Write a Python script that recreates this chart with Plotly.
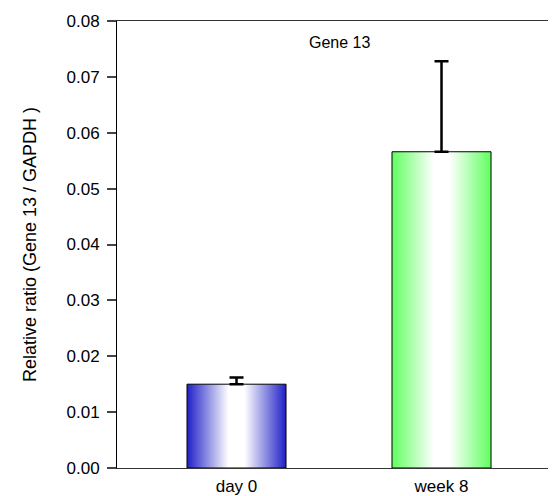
import plotly.graph_objects as go

categories = ["day 0", "week 8"]
values = [0.0150, 0.0566]
errors = [0.0012, 0.0162]
edge_colors = ["rgb(32,32,200)", "rgb(96,255,96)"]
title_text = "Gene 13"
y_label = "Relative ratio (Gene 13 / GAPDH )"

bar_width = 0.483
positions = list(range(len(categories)))

fig = go.Figure()

for i, (pos, v, c) in enumerate(zip(positions, values, edge_colors)):
    x0, x1 = pos - bar_width / 2, pos + bar_width / 2
    fig.add_trace(go.Scatter(
        x=[x0, x1, x1, x0, x0], y=[0, 0, v, v, 0],
        mode="lines", fill="toself",
        fillgradient=dict(type="horizontal",
                          colorscale=[[0, c], [0.42, "white"], [0.58, "white"], [1, c]],
                          start=x0, stop=x1),
        line=dict(color="black", width=1),
        hoverinfo="skip", showlegend=False,
    ))

fig.add_trace(go.Scatter(
    x=positions, y=values, mode="markers",
    marker=dict(size=1, color="rgba(0,0,0,0)"),
    error_y=dict(type="data", symmetric=False, array=errors,
                 arrayminus=[0] * len(errors), color="black",
                 thickness=2.5, width=7),
    showlegend=False, hoverinfo="skip",
))

fig.add_annotation(x=0.5, y=0.0762, xref="x", yref="y", text=title_text,
                   showarrow=False, font=dict(size=16, color="black"))

fig.update_layout(
    width=548, height=488,
    margin=dict(l=109, r=0, t=13, b=28),
    plot_bgcolor="white", paper_bgcolor="white",
    font=dict(family="Liberation Sans, Arial, sans-serif", size=17, color="black"),
    xaxis=dict(range=[-0.583, 1.5585], tickvals=positions, ticktext=categories,
               showgrid=False, zeroline=False, showline=True, mirror=True,
               linecolor="#333", linewidth=1, ticks="", tickfont=dict(size=17),
               ticklabelstandoff=3),
    yaxis=dict(range=[0, 0.08], dtick=0.01, tickformat=".2f",
               showgrid=False, zeroline=False, showline=True, linecolor="black",
               linewidth=1, ticks="outside", ticklen=9, tickwidth=2, tickcolor="#444",
               tickfont=dict(size=17), ticklabelstandoff=4,
               title=dict(text=y_label, font=dict(size=18), standoff=25)),
)

fig.write_html("out.html")
